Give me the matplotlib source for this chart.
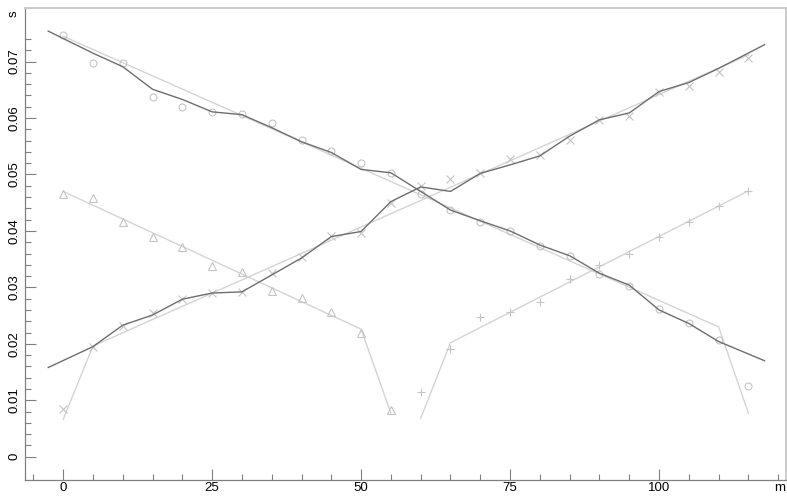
import numpy as np
import matplotlib
matplotlib.use('Agg')
import matplotlib.pyplot as plt
from matplotlib.ticker import FixedLocator

plt.rcParams['font.family'] = ['Liberation Sans', 'DejaVu Sans']

# --- Sample positions ---
x_full = [0, 5, 10, 15, 20, 25, 30, 35, 40, 45, 50, 55,
          60, 65, 70, 75, 80, 85, 90, 95, 100, 105, 110, 115]
x_first = [0, 5, 10, 15, 20, 25, 30, 35, 40, 45, 50, 55]
x_second = [60, 65, 70, 75, 80, 85, 90, 95, 100, 105, 110, 115]

# --- Decreasing series (circles) ---
circ_pts = [0.0747, 0.0697, 0.0697, 0.0638, 0.0620, 0.0611, 0.0607, 0.0592,
            0.0561, 0.0542, 0.0520, 0.0503, 0.0465, 0.0437, 0.0416, 0.0399,
            0.0373, 0.0356, 0.0323, 0.0303, 0.0262, 0.0236, 0.0206, 0.0126]
circ_smooth_x = [-2.5, 5, 10, 15, 20, 25, 30, 35, 40, 45, 50, 55,
                 60, 65, 70, 75, 80, 85, 90, 95, 100, 105, 110, 117.7]
circ_smooth = [0.0754, 0.0715, 0.0691, 0.0651, 0.0633, 0.0611, 0.0606, 0.0583,
               0.0558, 0.0539, 0.0509, 0.0503, 0.0470, 0.0437, 0.0418, 0.0400,
               0.0375, 0.0356, 0.0325, 0.0304, 0.0260, 0.0236, 0.0204, 0.0170]
circ_fit_x = [0, 110, 115]
circ_fit = [0.0745, 0.0230, 0.0077]

# --- Increasing series (crosses) ---
cross_pts = [0.0084, 0.0195, 0.0232, 0.0254, 0.0279, 0.0290, 0.0291, 0.0325,
             0.0353, 0.0391, 0.0397, 0.0450, 0.0480, 0.0492, 0.0503, 0.0527,
             0.0535, 0.0561, 0.0597, 0.0603, 0.0647, 0.0656, 0.0682, 0.0707]
cross_smooth_x = [-2.5, 5, 10, 15, 20, 25, 30, 35, 40, 45, 50, 55,
                  60, 65, 70, 75, 80, 85, 90, 95, 100, 105, 110, 117.7]
cross_smooth = [0.0158, 0.0195, 0.0233, 0.0251, 0.0279, 0.0290, 0.0292, 0.0322,
                0.0352, 0.0390, 0.0399, 0.0452, 0.0478, 0.0470, 0.0502, 0.0517,
                0.0533, 0.0568, 0.0597, 0.0609, 0.0647, 0.0663, 0.0688, 0.0730]
cross_fit_x = [0, 5, 115]
cross_fit = [0.0066, 0.0196, 0.0712]

# --- First half (triangles) ---
tri_pts = [0.0465, 0.0458, 0.0415, 0.0390, 0.0372, 0.0338, 0.0328, 0.0294,
           0.0281, 0.0257, 0.0219, 0.0082]
tri_fit_x = [0, 50, 55]
tri_fit = [0.0470, 0.0226, 0.0077]

# --- Second half (plus) ---
plus_pts = [0.0114, 0.0190, 0.0248, 0.0257, 0.0274, 0.0315, 0.0340, 0.0360,
            0.0389, 0.0415, 0.0444, 0.0470]
plus_fit_x = [60, 65, 115]
plus_fit = [0.0068, 0.0202, 0.0471]

# --- Axis ticks ---
x_major = [0, 25, 50, 75, 100]
x_minor = list(range(-5, 125, 5))
y_major = [0, 0.01, 0.02, 0.03, 0.04, 0.05, 0.06, 0.07]
y_major_labels = ['0', '0.01', '0.02', '0.03', '0.04', '0.05', '0.06', '0.07']
y_minor = [i * 0.002 for i in range(0, 38)]

dark = '#6e6e6e'
light = '#d4d4d4'
mark = '#c4c4c4'

fig = plt.figure(figsize=(7.87, 4.97), dpi=100)
ax = fig.add_axes([25 / 787, 17 / 497, 761 / 787, 472 / 497])

# fitted lines (light)
ax.plot(circ_fit_x, circ_fit, color=light, lw=1.0)
ax.plot(cross_fit_x, cross_fit, color=light, lw=1.0)
ax.plot(tri_fit_x, tri_fit, color=light, lw=1.0)
ax.plot(plus_fit_x, plus_fit, color=light, lw=1.0)

# measured points
ax.plot(x_full, circ_pts, 'o', ms=5, mfc='none', mec=mark, mew=0.8)
ax.plot(x_full, cross_pts, 'x', ms=6, mec=mark, mew=0.8)
ax.plot(x_first, tri_pts, '^', ms=5.5, mfc='none', mec=mark, mew=0.8)
ax.plot(x_second, plus_pts, '+', ms=6, mec=mark, mew=0.8)

# smoothed lines (dark)
ax.plot(circ_smooth_x, circ_smooth, color=dark, lw=1.0)
ax.plot(cross_smooth_x, cross_smooth, color=dark, lw=1.0)

ax.set_xlim(-6.4, 121.3)
ax.set_ylim(-0.00413, 0.0795)

ax.xaxis.set_major_locator(FixedLocator(x_major))
ax.xaxis.set_minor_locator(FixedLocator(x_minor))
ax.yaxis.set_major_locator(FixedLocator(y_major))
ax.yaxis.set_minor_locator(FixedLocator(y_minor))
ax.set_yticklabels(y_major_labels, rotation=90, va='center')

ax.tick_params(which='both', direction='in', color='#808080', width=0.8,
               labelsize=9.5, pad=3)
ax.tick_params(axis='x', which='both', pad=1.5)
ax.tick_params(which='major', length=8)
ax.tick_params(which='minor', length=4)

for side in ['left', 'bottom']:
    ax.spines[side].set_color('#808080')
    ax.spines[side].set_linewidth(0.9)
for side in ['top', 'right']:
    ax.spines[side].set_color('#cacaca')
    ax.spines[side].set_linewidth(1.4)

# unit labels
fig.text(14 / 787, 1 - 14 / 497, 's', rotation=90, ha='center', va='center', fontsize=9.5)
fig.text(785 / 787, 1 - 488 / 497, 'm', ha='right', va='center', fontsize=9.5)

plt.savefig('out.png', dpi=100)
